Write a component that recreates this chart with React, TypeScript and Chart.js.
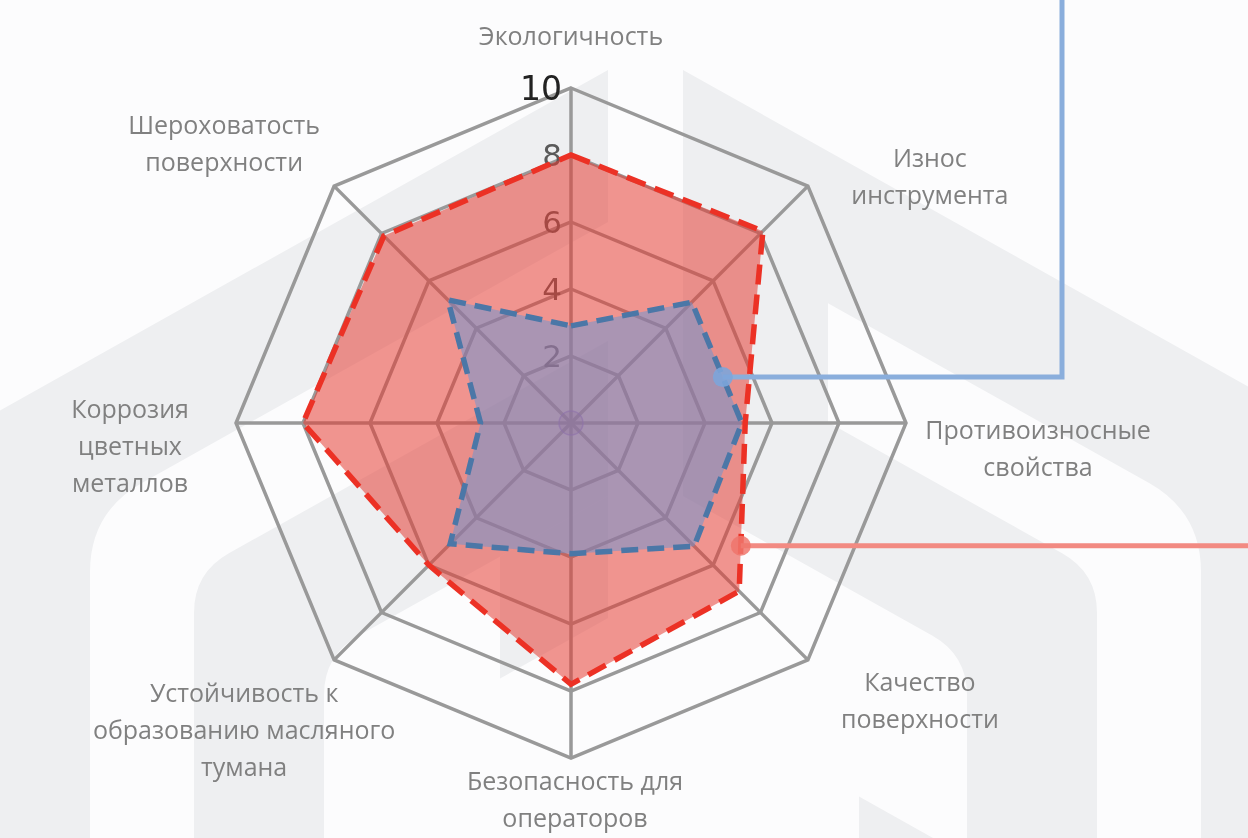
import React, { useEffect, useRef } from "react";
import { Chart, registerables } from "chart.js";

Chart.register(...registerables);

// ---------- data ----------
const categories: string[][] = [
  ["Экологичность"],
  ["Износ", "инструмента"],
  ["Противоизносные", "свойства"],
  ["Качество", "поверхности"],
  ["Безопасность для", "операторов"],
  ["Устойчивость к", "образованию масляного", "тумана"],
  ["Коррозия", "цветных", "металлов"],
  ["Шероховатость", "поверхности"],
];
const redSeries = [8.0, 8.1, 5.2, 7.1, 7.8, 6.0, 8.0, 7.9];
const blueSeries = [2.9, 5.1, 5.1, 5.2, 3.9, 5.1, 2.7, 5.2];
const centerSeries = [0, 0, 0, 0, 0, 0, 0, 0];
const tickValues = [2, 4, 6, 8, 10];
const tickLabels = ["2", "4", "6", "8", "10"];

// ---------- styles ----------
const LABEL_OFFSETS: [number, number][] = [
  [0, -50],
  [122, -7.5],
  [132, 27],
  [112, 42.5],
  [4, 43.5],
  [-90, 71.5],
  [-106, 24.5],
  [-110, -41],
];
const LABEL_LINE_HEIGHT = 37;

const CALLOUTS = [
  { dataset: 0, from: 1, to: 2, t: 0.62, line: "#8aaedc", dot: "rgba(125,165,218,0.9)", endX: 1062, up: true },
  { dataset: 1, from: 2, to: 3, t: 0.73, line: "#f28a82", dot: "rgba(240,118,108,0.85)", endX: 1260, up: false },
];

// ---------- watermark geometry (decoration) ----------
const SLOPE = 0.56;
const AXIS = 645.5;
const yR = (b: number, x: number) => b + SLOPE * (x - AXIS);
const yL = (b: number, x: number) => b + SLOPE * (AXIS - x);
type P = [number, number, number?];
function roundedPath(pts: P[]): string {
  let d = "";
  const n = pts.length;
  for (let i = 0; i < n; i++) {
    const [x, y, r = 0] = pts[i];
    if (!r) {
      d += (i === 0 ? "M" : "L") + x + " " + y + " ";
      continue;
    }
    const pv = pts[(i - 1 + n) % n];
    const nx = pts[(i + 1) % n];
    const l1 = Math.hypot(pv[0] - x, pv[1] - y);
    const l2 = Math.hypot(nx[0] - x, nx[1] - y);
    const ax = x + ((pv[0] - x) / l1) * r;
    const ay = y + ((pv[1] - y) / l1) * r;
    const bx = x + ((nx[0] - x) / l2) * r;
    const by = y + ((nx[1] - y) / l2) * r;
    d += (i === 0 ? "M" : "L") + ax + " " + ay + " Q" + x + " " + y + " " + bx + " " + by + " ";
  }
  return d + "Z";
}
const GRAY_SHAPES: P[][] = [
  [[608, 70], [-60, yL(49, -60)], [-60, 900], [324, 900], [324, yL(475, 324), 40], [608, yL(475, 608)]],
  [[683, 70], [1320, yR(49, 1320)], [1320, 900], [967, 900], [967, yR(475, 967), 40], [683, yR(475, 683)]],
  [[500, yL(475, 500)], [608, yL(475, 608)], [608, yL(597, 608)], [500, yL(597, 500)]],
  [[859, yR(677, 859)], [980, yR(677, 980)], [859, yR(677, 980)]],
];
const WHITE_SHAPES: P[][] = [
  [[608, yL(201, 608)], [90, yL(201, 90), 60], [90, 900], [194, 900], [194, yL(320, 194), 40], [608, yL(320, 608)]],
  [[828, yR(201, 828)], [1201, yR(201, 1201), 60], [1201, 900], [1097, 900], [1097, yR(320, 1097), 40], [828, yR(320, 828)]],
];

const decorPlugin = {
  id: "decor",
  beforeDatasetsDraw(chart: any) {
    const s = chart.scales.r;
    const ctx: CanvasRenderingContext2D = chart.ctx;
    ctx.save();
    ctx.textAlign = "right";
    ctx.textBaseline = "middle";
    tickValues.forEach((v, i) => {
      const p = s.getPointPositionForValue(0, v);
      ctx.font = v === 10 ? '33px "DejaVu Sans"' : '31px "DejaVu Sans"';
      ctx.fillStyle = v === 10 ? "#222222" : "#5a5a5a";
      ctx.fillText(tickLabels[i], p.x - 9, p.y + 3);
    });
    ctx.restore();
  },
  afterDatasetsDraw(chart: any) {
    const s = chart.scales.r;
    const ctx: CanvasRenderingContext2D = chart.ctx;
    ctx.save();
    ctx.font = '25px "Open Sans"';
    ctx.textAlign = "center";
    ctx.textBaseline = "middle";
    ctx.fillStyle = "#808080";
    categories.forEach((lines, i) => {
      const p = s.getPointPositionForValue(i, 10);
      const [dx, dy] = LABEL_OFFSETS[i];
      const cx = p.x + dx;
      const cy = p.y + dy;
      lines.forEach((t, j) => {
        ctx.fillText(t, cx, cy + (j - (lines.length - 1) / 2) * LABEL_LINE_HEIGHT);
      });
    });
    CALLOUTS.forEach((c) => {
      const pts = chart.getDatasetMeta(c.dataset).data;
      const a = pts[c.from];
      const b = pts[c.to];
      const x = a.x + (b.x - a.x) * c.t;
      const y = a.y + (b.y - a.y) * c.t;
      ctx.strokeStyle = c.line;
      ctx.lineWidth = 5;
      ctx.setLineDash([]);
      ctx.lineJoin = "miter";
      ctx.beginPath();
      ctx.moveTo(x, y);
      ctx.lineTo(c.endX, y);
      if (c.up) ctx.lineTo(c.endX, -10);
      ctx.stroke();
      ctx.fillStyle = c.dot;
      ctx.beginPath();
      ctx.arc(x, y, 10, 0, Math.PI * 2);
      ctx.fill();
    });
    ctx.restore();
  },
};

export default function App() {
  const ref = useRef<HTMLCanvasElement | null>(null);
  useEffect(() => {
    if (!ref.current) return;
    const chart = new Chart(ref.current, {
      type: "radar",
      data: {
        labels: categories,
        datasets: [
          {
            data: blueSeries,
            borderColor: "#4b77a7",
            borderWidth: 5.5,
            borderDash: [17, 9],
            backgroundColor: "rgba(100,150,215,0.5)",
            fill: true,
            pointRadius: 0,
          },
          {
            data: redSeries,
            borderColor: "#ec3125",
            borderWidth: 5.5,
            borderDash: [20, 10],
            backgroundColor: "rgba(230,60,50,0.54)",
            fill: true,
            pointRadius: 0,
          },
          {
            data: centerSeries,
            showLine: false,
            fill: false,
            pointRadius: [12, 0, 0, 0, 0, 0, 0, 0],
            pointBackgroundColor: "rgba(120,90,150,0.3)",
            pointBorderColor: "rgba(130,100,210,0.6)",
            pointBorderWidth: 1.5,
          },
        ],
      },
      options: {
        responsive: false,
        animation: false,
        layout: { padding: { left: 236, right: 342, top: 88, bottom: 80 } },
        elements: { line: { tension: 0, borderJoinStyle: "miter" } },
        plugins: { legend: { display: false }, tooltip: { enabled: false } },
        scales: {
          r: {
            min: 0,
            max: 10,
            ticks: { display: false, stepSize: 2 },
            grid: { color: "#999999", lineWidth: 3.5, circular: false },
            angleLines: { color: "#999999", lineWidth: 3.5 },
            pointLabels: { display: false },
          },
        },
      } as any,
      plugins: [decorPlugin],
    });
    return () => chart.destroy();
  }, []);

  return (
    <div
      style={{
        position: "fixed",
        left: 0,
        top: 0,
        width: 1248,
        height: 838,
        background: "#fcfcfd",
        overflow: "hidden",
      }}
    >
      <svg width={1248} height={838} style={{ position: "absolute", left: 0, top: 0 }}>
        {GRAY_SHAPES.map((s, i) => (
          <path key={"g" + i} d={roundedPath(s)} fill="#eeeff1" />
        ))}
        {WHITE_SHAPES.map((s, i) => (
          <path key={"w" + i} d={roundedPath(s)} fill="#fcfcfd" />
        ))}
      </svg>
      <canvas
        ref={ref}
        width={1248}
        height={838}
        style={{ position: "absolute", left: 0, top: 0, width: 1248, height: 838 }}
      />
    </div>
  );
}
